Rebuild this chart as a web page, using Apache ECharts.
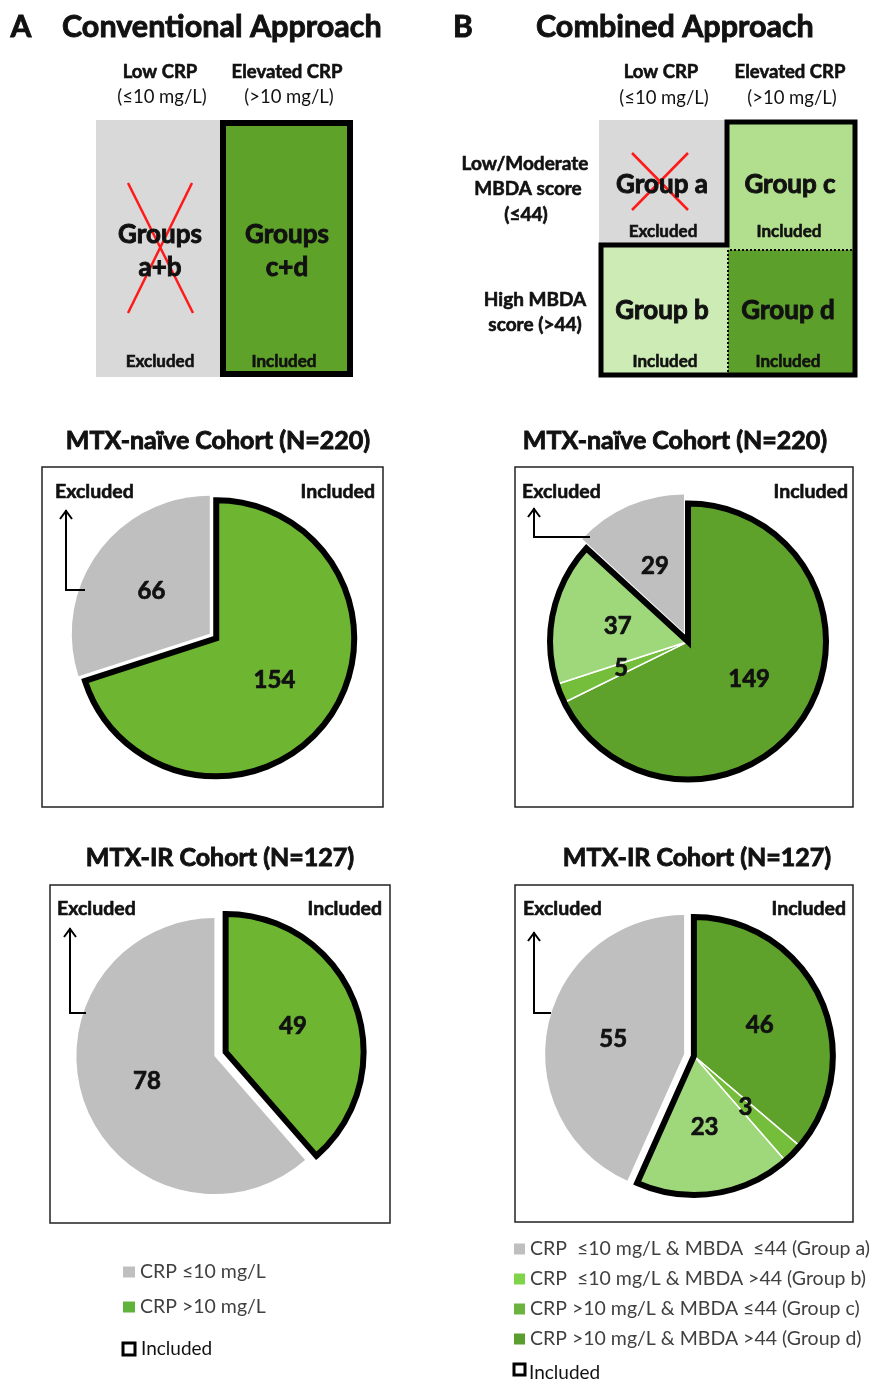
<!DOCTYPE html>
<html><head><meta charset="utf-8">
<script src="https://cdn.jsdelivr.net/npm/echarts@6/dist/echarts.min.js"></script>
<style>html,body{margin:0;padding:0;background:#fff}#c{width:872px;height:1386px}</style>
</head><body><div id="c"></div>
<script>
const FONT = 'Lato';
// ---- data ----
const namesA = ['CRP ≤10 mg/L', 'CRP >10 mg/L'];
const naiveA = [66, 154];          // excluded (groups a+b), included (groups c+d)
const irA = [78, 49];
const namesB = ['CRP  ≤10 mg/L & MBDA  ≤44 (Group a)', 'CRP  ≤10 mg/L & MBDA >44 (Group b)',
                'CRP >10 mg/L & MBDA ≤44 (Group c)', 'CRP >10 mg/L & MBDA >44 (Group d)'];
const naiveB = [29, 37, 5, 149];   // group a, b, c, d
const irB = [55, 23, 3, 46];
const cohortTitles = ['MTX-naïve Cohort (N=220)', 'MTX-IR Cohort (N=127)'];
// ---- styles ----
const colorsA = ['#BFBFBF', '#6EB532'];
const colorsB = ['#BFBFBF', '#9FD77B', '#74BE3C', '#5EA12B'];
const legendColorsA = ['#BFBFBF', '#5FB23A'];
const legendColorsB = ['#BFBFBF', '#80D44A', '#6BB33E', '#5A9E2E'];

function makePie(id, cx, cy, r, off, names, values, colors, inclOrder, exclIdx) {
  const total = values.reduce((s, v) => s + v, 0);
  const inclSum = inclOrder.reduce((s, i) => s + values[i], 0);
  const exclSum = total - inclSum;
  const phi = inclSum / total * Math.PI;
  const dx = Math.sin(phi) * off, dy = -Math.cos(phi) * off;
  const ci = [cx + dx, cy + dy], ce = [cx - dx, cy - dy];
  const hidden = {color: 'rgba(0,0,0,0)', borderWidth: 0};
  const common = {type: 'pie', radius: r, startAngle: 90, clockwise: true, animation: false, silent: true,
    avoidLabelOverlap: false, emphasis: {disabled: true}, labelLine: {show: false}};
  const lbl = {show: true, position: 'inside', formatter: '{c}', color: '#111', fontFamily: FONT, fontWeight: 'bold',
    fontSize: 24, textBorderColor: '#111', textBorderWidth: 0.7};
  return [
    Object.assign({}, common, {id: id + '-excl', center: ce, label: lbl, z: 2,
      data: [{name: id + '_g1', value: inclSum, itemStyle: hidden, label: {show: false}},
             {name: names[exclIdx], value: values[exclIdx], itemStyle: {color: colors[exclIdx], borderWidth: 0}}]}),
    Object.assign({}, common, {id: id + '-incl', center: ci, label: lbl, z: 2,
      data: inclOrder.map(i => ({name: names[i], value: values[i], itemStyle: {color: colors[i], borderColor: '#fff', borderWidth: 1.5}}))
        .concat([{name: id + '_g2', value: exclSum, itemStyle: hidden, label: {show: false}}])}),
    Object.assign({}, common, {id: id + '-out', center: ci, label: {show: false}, z: 3,
      data: [{name: id + '_g3', value: inclSum, itemStyle: {color: 'rgba(0,0,0,0)', borderColor: '#000', borderWidth: 6, borderJoin: 'miter'}},
             {name: id + '_g4', value: exclSum, itemStyle: hidden}]})
  ];
}

const series = [].concat(
  makePie('an', 213, 636, 138, 4, namesA, naiveA, colorsA, [1], 0),
  makePie('bn', 686, 637, 138, 5, namesB, naiveB, colorsB, [3, 2, 1], 0),
  makePie('ai', 220, 1054, 138, 6, namesA, irA, colorsA, [1], 0),
  makePie('bi', 689, 1055, 139, 5, namesB, irB, colorsB, [3, 2, 1], 0)
);

// ---- graphic helpers ----
function T(text, x, y, size, bold, align) {
  const st = {text: text, fill: '#111', font: (bold ? 'bold ' : '') + size + 'px ' + FONT,
    align: align || 'center', verticalAlign: 'middle'};
  if (bold) { st.stroke = '#111'; st.lineWidth = size > 24 ? 0.9 : 0.6; }
  return {type: 'text', x: x, y: y, z: 10, style: st};
}
function rect(x, y, w, h, fill, stroke, lw) {
  return {type: 'rect', z: 5, shape: {x: x, y: y, width: w, height: h},
    style: {fill: fill || 'none', stroke: stroke || null, lineWidth: lw || 0}};
}
function line(x1, y1, x2, y2, stroke, lw, dash) {
  return {type: 'line', z: 8, shape: {x1: x1, y1: y1, x2: x2, y2: y2},
    style: {stroke: stroke, lineWidth: lw, lineDash: dash || null}};
}
function arrow(x, yTip, yCorner, xEnd) {
  return [
    {type: 'polyline', z: 8, shape: {points: [[xEnd, yCorner], [x, yCorner], [x, yTip]]}, style: {stroke: '#000', lineWidth: 2, fill: null}},
    {type: 'polyline', z: 8, shape: {points: [[x - 6, yTip + 9], [x, yTip + 1], [x + 6, yTip + 9]]}, style: {stroke: '#000', lineWidth: 2, fill: null}}
  ];
}

const g = [];
// headings
g.push(T('A', 21, 27, 30, true), T('Conventional Approach', 62, 27, 30.5, true, 'left'));
g.push(T('B', 463, 27, 30, true), T('Combined Approach', 536, 27, 30.5, true, 'left'));
// panel A matrix
g.push(T('Low CRP', 160, 72, 18.5, true), T('(≤10 mg/L)', 162, 97, 18.5, false));
g.push(T('Elevated CRP', 287, 72, 18.5, true), T('(>10 mg/L)', 289, 97, 18.5, false));
g.push(rect(96, 120, 127, 257, '#D9D9D9'));
g.push(rect(223, 123, 127, 251, '#5FA22A', '#000', 6));
g.push(T('Groups', 160, 235, 26, true), T('a+b', 160, 268, 26, true));
g.push(line(128, 183, 193, 313, '#FF1A1A', 2.5), line(192, 183, 128, 313, '#FF1A1A', 2.5));
g.push(T('Groups', 287, 235, 26, true), T('c+d', 287, 268, 26, true));
g.push(T('Excluded', 160, 362, 17, true), T('Included', 284, 362, 17, true));
// panel B matrix
g.push(T('Low CRP', 661, 72, 18.5, true), T('(≤10 mg/L)', 664, 98, 18.5, false));
g.push(T('Elevated CRP', 790, 72, 18.5, true), T('(>10 mg/L)', 792, 98, 18.5, false));
g.push(T('Low/Moderate', 525, 164, 19, true), T('MBDA score', 528, 189, 19, true), T('(≤44)', 526, 215, 19, true));
g.push(T('High MBDA', 535, 300, 19, true), T('score (>44)', 535, 325, 19, true));
g.push(rect(599, 120, 128, 125, '#D9D9D9'));
g.push(rect(727, 122, 128, 128, '#B2DF8E'));
g.push(rect(601, 245, 127, 130, '#CDEBB5'));
g.push(rect(728, 250, 127, 125, '#5C9F2A'));
g.push({type: 'polygon', z: 7, shape: {points: [[727, 122], [855, 122], [855, 375], [601, 375], [601, 245], [727, 245]]},
  style: {fill: 'none', stroke: '#000', lineWidth: 5, lineJoin: 'miter'}});
g.push(line(730, 250, 853, 250, '#000', 2, [2, 2]), line(728, 250, 728, 373, '#000', 2, [2, 2]));
g.push(T('Group a', 662, 185, 26, true), T('Group c', 790, 185, 26, true));
g.push(line(632, 153, 688, 210, '#FF1A1A', 2.5), line(688, 153, 632, 210, '#FF1A1A', 2.5));
g.push(T('Excluded', 663, 232, 17, true), T('Included', 789, 232, 17, true));
g.push(T('Group b', 662, 311, 26, true), T('Group d', 788, 311, 26, true));
g.push(T('Included', 665, 362, 17, true), T('Included', 788, 362, 17, true));
// pie titles & frames
g.push(T(cohortTitles[0], 218, 441, 25, true), T(cohortTitles[0], 675, 441, 25, true));
g.push(T(cohortTitles[1], 220, 858, 25, true), T(cohortTitles[1], 697, 858, 25, true));
g.push(rect(42, 467, 341, 340, 'none', '#222', 1.5), rect(515, 467, 338, 340, 'none', '#222', 1.5));
g.push(rect(50, 885, 340, 338, 'none', '#222', 1.5), rect(515, 885, 338, 337, 'none', '#222', 1.5));
g.push(T('Excluded', 55, 492, 19.5, true, 'left'), T('Included', 375, 492, 19.5, true, 'right'));
g.push(T('Excluded', 522, 492, 19.5, true, 'left'), T('Included', 848, 492, 19.5, true, 'right'));
g.push(T('Excluded', 57, 909, 19.5, true, 'left'), T('Included', 382, 909, 19.5, true, 'right'));
g.push(T('Excluded', 523, 909, 19.5, true, 'left'), T('Included', 846, 909, 19.5, true, 'right'));
g.push.apply(g, arrow(66, 510, 590, 85));
g.push.apply(g, arrow(534, 508, 537, 590));
g.push.apply(g, arrow(70, 928, 1013, 86));
g.push.apply(g, arrow(534, 932, 1013, 551));
// "Included" legend entries
g.push(rect(123, 1343, 12, 12, '#fff', '#000', 3), T('Included', 141, 1349, 19, false, 'left'));
g.push(rect(514, 1364, 11, 11, '#fff', '#000', 3), T('Included', 529, 1373, 19, false, 'left'));

const legendText = {fontFamily: FONT, fontSize: 19.5, color: '#404040', lineHeight: 20};
const option = {
  backgroundColor: '#fff',
  animation: false,
  legend: [
    {orient: 'vertical', left: 123, top: 1262, padding: 0, itemWidth: 12, itemHeight: 11, itemGap: 15,
     icon: 'rect', selectedMode: false, textStyle: legendText,
     data: namesA.map((n, i) => ({name: n, itemStyle: {color: legendColorsA[i], borderWidth: 0}}))},
    {orient: 'vertical', left: 514, top: 1239, padding: 0, itemWidth: 11, itemHeight: 11, itemGap: 10,
     icon: 'rect', selectedMode: false, textStyle: legendText,
     data: namesB.map((n, i) => ({name: n, itemStyle: {color: legendColorsB[i], borderWidth: 0}}))}
  ],
  graphic: {elements: g},
  series: series
};
const chart = echarts.init(document.getElementById('c'), null, {renderer: 'canvas'});
chart.setOption(option);
</script></body></html>
